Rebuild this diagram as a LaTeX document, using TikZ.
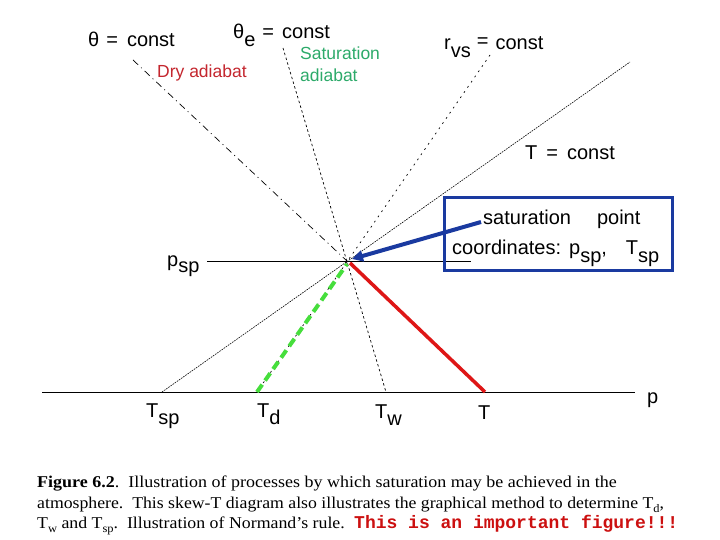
\documentclass[tikz,border=0pt]{standalone}
\usepackage{fontspec}
\setmainfont{Liberation Serif}
\setsansfont{Liberation Sans}
\setmonofont{Liberation Mono}
\usepackage{graphicx}
\usetikzlibrary{arrows.meta}
\definecolor{dryred}{RGB}{196,38,46}
\definecolor{satgreen}{RGB}{45,170,106}
\definecolor{procgreen}{RGB}{70,222,60}
\definecolor{procred}{RGB}{222,22,22}
\definecolor{boxblue}{RGB}{26,58,160}
\definecolor{capred}{RGB}{204,16,16}
\newcommand\lsub[1]{\raisebox{-0.38em}{#1}}
\newcommand\csub[1]{\raisebox{-0.25em}{\scalebox{0.7}{#1}}}
\begin{document}
\begin{tikzpicture}[x=1bp,y=-1bp,
  lbl/.style={font=\sffamily\fontsize{20bp}{24bp}\selectfont, inner sep=0pt, anchor=base west},
  smalllbl/.style={font=\sffamily\fontsize{17.5bp}{22bp}\selectfont, inner sep=0pt, anchor=base west},
  captxt/.style={font=\fontsize{16.5bp}{20bp}\selectfont, inner sep=0pt, anchor=base west},
  capmono/.style={font=\ttfamily\bfseries\fontsize{18bp}{20bp}\selectfont, text=capred, inner sep=0pt, anchor=base west},
  axisline/.style={line width=1bp},
  dryline/.style={line width=0.7bp, dash pattern=on 7bp off 4bp on 1bp off 4bp},
  satline/.style={line width=0.7bp, dash pattern=on 2.5bp off 2.5bp},
  mixline/.style={line width=0.7bp, dash pattern=on 1.8bp off 4.5bp},
  isotherm/.style={line width=0.6bp, dash pattern=on 1.6bp off 1bp},
  greenproc/.style={procgreen, line width=4bp, dash pattern=on 9bp off 5bp},
  redproc/.style={procred, line width=3.5bp},
  bluearrow/.style={boxblue, line width=4bp, -{Triangle[length=11bp,width=11bp]}},
  infobox/.style={draw=boxblue, line width=3bp}
]
\useasboundingbox (0,0) rectangle (720,540);
\fill[white] (0,0) rectangle (720,540);

% key points
\coordinate (X) at (348,262);
\coordinate (Tsp) at (162,392);
\coordinate (Td) at (257,392);
\coordinate (Tw) at (386,392);
\coordinate (T) at (485,392);
\coordinate (L0) at (42,392);
\coordinate (L1) at (635,392);
\coordinate (P0) at (207,262);
\coordinate (P1) at (471,262);
\coordinate (dryTop) at (133,60);
\coordinate (satTop) at (283,48);
\coordinate (mixTop) at (490,55);
\coordinate (isoTop) at (630,62);
\coordinate (Xg) at (347,264);
\coordinate (Xr) at (350,263);
\coordinate (arrowStart) at (481,222);
\coordinate (arrowTip) at (352,259);

% isobars
\draw[axisline] (L0) -- (L1);
\draw[axisline] (P0) -- (P1);

% reference lines
\draw[dryline] (dryTop) -- (X);
\draw[satline] (satTop) -- (Tw);
\draw[mixline] (mixTop) -- (Td);
\draw[isotherm] (Tsp) -- (isoTop);

% processes
\draw[greenproc] (Td) -- (Xg);
\draw[redproc] (Xr) -- (T);

% box
\draw[infobox] (444,198) rectangle (672,270);
\draw[bluearrow] (arrowStart) -- (arrowTip);

% labels
\node[lbl] (thconst) at (88,47) {θ\hspace{7bp}=\hspace{9bp}const};
\node[lbl] (theconst) at (233,39) {θ\lsub{e}\hspace{7bp}=\hspace{8bp}const};
\node[smalllbl, text=dryred] (dry) at (157,78) {Dry adiabat};
\node[smalllbl, text=satgreen] (sat1) at (300,60) {Saturation};
\node[smalllbl, text=satgreen] (sat2) at (300,82) {adiabat};
\node[lbl] (rvs) at (444,50) {r\lsub{vs}\hspace{6bp}\raisebox{0.12em}{=}\hspace{7bp}const};
\node[lbl] (Tconst) at (525,160) {T\hspace{9bp}=\hspace{9bp}const};
\node[lbl] (psp) at (167,267) {p\raisebox{-0.3em}{sp}};
\node[lbl] (boxl1) at (483,225) {saturation\hspace{26bp}point};
\node[lbl] (boxl2) at (452,255) {coordinates:\hspace{8bp}p\lsub{sp},\hspace{19bp}T\lsub{sp}};

\node[lbl] (lTsp) at (146,417) {T\lsub{sp}};
\node[lbl] (lTd) at (257,417) {T\lsub{d}};
\node[lbl] (lTw) at (375,418) {T\lsub{w}};
\node[lbl] (lT) at (478,419) {T};
\node[lbl] (lp) at (647,403) {p};

% caption
\node[captxt] (cap1) at (37,487) {\scalebox{1.09}[1]{\textbf{Figure 6.2}.\ \ Illustration of processes by which saturation may be achieved in the}};
\node[captxt] (cap2) at (37,508) {\scalebox{1.075}[1]{atmosphere.\ \ This skew-T diagram also illustrates the graphical method to determine T\csub{d},}};
\node[captxt] (cap3) at (37,528) {\scalebox{1.08}[1]{T\csub{w} and T\csub{sp}.\ \ Illustration of Normand's rule.}};
\node[capmono] (cap3b) at (354,528) {This is an important figure!!!};
\end{tikzpicture}
\end{document}
